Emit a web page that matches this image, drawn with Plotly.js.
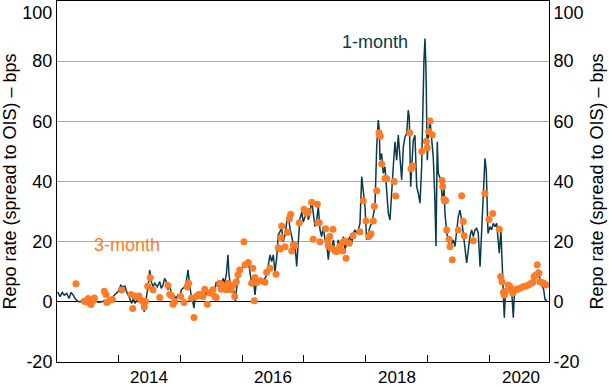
<!DOCTYPE html>
<html>
<head>
<meta charset="utf-8">
<script src="https://cdn.plot.ly/plotly-3.0.1.min.js"></script>
<style>html,body{margin:0;padding:0;background:#fff;}#chart{width:609px;height:387px;}</style>
</head>
<body>
<div id="chart"></div>
<script>
// ---- data: [decimal year, bps] ----
const oneMonth2013 = [[2013.027,3.3],[2013.065,1.7],[2013.102,3.1],[2013.134,2.2],[2013.173,2.8],[2013.210,1.1],[2013.242,3.1],[2013.279,2.2],[2013.306,1.1],[2013.350,0.2],[2013.387,0],[2013.424,0.6],[2013.456,-0.5],[2013.495,0.2],[2013.548,0.5],[2013.602,-0.5],[2013.656,0.2],[2013.682,-0.2],[2013.737,0],[2013.790,0.5],[2013.844,0.2],[2013.898,1.3],[2013.952,2.2]];
const oneMonth2014 = [[2014.005,3.5],[2014.044,5.5],[2014.076,5],[2014.113,5.2],[2014.140,3.3],[2014.177,1.7],[2014.221,-0.5],[2014.247,1.1],[2014.274,-0.5],[2014.318,1.1],[2014.355,2.2],[2014.392,0.5],[2014.424,-3.3],[2014.463,2.2],[2014.489,5.5],[2014.511,10.6],[2014.537,6.7],[2014.565,5],[2014.592,6.2],[2014.634,5],[2014.673,6.7],[2014.698,4.5],[2014.726,5.6],[2014.753,7.8],[2014.779,6.7],[2014.806,4],[2014.834,5.6],[2014.860,2.9],[2014.887,2.3],[2014.915,1.8],[2014.940,1.2],[2014.968,2.3],[2014.995,1.2]];
const oneMonth2015 = [[2015.021,4],[2015.048,4.5],[2015.076,5],[2015.102,6.7],[2015.129,10.6],[2015.156,5.6],[2015.182,1.8],[2015.210,-0.4],[2015.226,-2.1],[2015.247,2.3],[2015.279,2.9],[2015.302,1.8],[2015.334,2.3],[2015.371,3.4],[2015.398,4.5],[2015.424,2.3],[2015.452,3.4],[2015.479,4],[2015.505,2.3],[2015.532,4.5],[2015.560,3.4],[2015.585,6.7],[2015.613,5],[2015.640,6.2],[2015.666,5.6],[2015.694,7.8],[2015.721,6.2],[2015.747,9],[2015.774,15.6],[2015.790,9],[2015.811,6.2],[2015.839,5],[2015.871,3.4],[2015.892,0],[2015.908,3.4],[2015.924,6.7],[2015.947,9],[2015.979,11]];
const oneMonth2016 = [[2016.021,11.8],[2016.048,11.5],[2016.102,13.3],[2016.129,8.9],[2016.156,6.2],[2016.182,7.8],[2016.210,2.3],[2016.237,7.8],[2016.263,5.6],[2016.290,7.3],[2016.344,6.7],[2016.398,8.9],[2016.452,15.6],[2016.479,13.4],[2016.505,15.6],[2016.532,10],[2016.560,14.5],[2016.585,22.2],[2016.613,23.3],[2016.640,24.4],[2016.666,20],[2016.694,22.2],[2016.721,26.6],[2016.747,28.8],[2016.774,24.4],[2016.802,21.5],[2016.827,19.3],[2016.855,18.8],[2016.882,11.8],[2016.908,19.9],[2016.935,27.6],[2016.963,29.8],[2016.989,26.5]];
const oneMonth2017 = [[2017.016,28.3],[2017.044,31.1],[2017.069,27.3],[2017.097,29.4],[2017.124,33.8],[2017.150,28.3],[2017.177,25],[2017.205,27.3],[2017.231,31.6],[2017.258,23.9],[2017.285,21.7],[2017.311,25],[2017.339,20.6],[2017.366,19.5],[2017.392,14],[2017.419,19.5],[2017.447,17.3],[2017.473,20.6],[2017.500,17.3],[2017.527,16.2],[2017.553,20.6],[2017.581,18.4],[2017.608,17.3],[2017.634,21.7],[2017.661,17.3],[2017.689,19.5],[2017.715,20.6],[2017.742,21.7],[2017.769,19.5],[2017.795,22.8],[2017.823,23.9],[2017.850,22.8],[2017.876,23.9],[2017.903,26.1],[2017.931,41.6],[2017.956,37.2],[2017.984,31.6]];
const oneMonth2018 = [[2018.011,20.6],[2018.037,22.8],[2018.065,25],[2018.092,26.1],[2018.118,28.3],[2018.145,31.6],[2018.173,51.5],[2018.198,60.4],[2018.215,57.1],[2018.226,47.1],[2018.253,49.3],[2018.279,42.7],[2018.306,44.9],[2018.334,36.1],[2018.360,29.5],[2018.387,27.2],[2018.415,38.3],[2018.440,44.9],[2018.468,53.2],[2018.495,47.1],[2018.521,55.4],[2018.548,47.1],[2018.576,40.5],[2018.602,51.5],[2018.629,54.8],[2018.656,55.9],[2018.682,63.7],[2018.698,61.4],[2018.721,38.3],[2018.737,44.9],[2018.763,53.7],[2018.790,55.4],[2018.818,38.3],[2018.844,36.1],[2018.871,32.8],[2018.898,44.9],[2018.915,65.9],[2018.935,80.3],[2018.952,87.5],[2018.968,77],[2018.989,47.1]];
const oneMonth2019 = [[2019.005,54.8],[2019.032,60.4],[2019.060,52.6],[2019.085,48.2],[2019.110,35],[2019.129,18.5],[2019.150,53.2],[2019.166,42.7],[2019.205,40.5],[2019.237,32.7],[2019.258,38.2],[2019.274,29.4],[2019.302,23],[2019.327,19.5],[2019.355,17.3],[2019.382,19.5],[2019.408,20.6],[2019.435,18.4],[2019.463,25],[2019.489,28.3],[2019.516,30.5],[2019.544,27.2],[2019.569,22.8],[2019.597,17.3],[2019.624,12.9],[2019.650,17.3],[2019.677,21.7],[2019.705,23.9],[2019.731,21.7],[2019.758,23.9],[2019.785,24.4],[2019.811,22.8],[2019.840,11.7],[2019.876,28.3],[2019.898,41.6],[2019.919,47.7],[2019.940,43.9],[2019.968,22.8]];
const oneMonth2020 = [[2020.000,25],[2020.027,23.9],[2020.053,26.1],[2020.081,25],[2020.108,26.1],[2020.134,20.6],[2020.150,16.2],[2020.177,23.9],[2020.194,9],[2020.210,5.2],[2020.231,-5.3],[2020.247,1.9],[2020.274,4.1],[2020.302,4.6],[2020.327,3.5],[2020.355,1.9],[2020.376,-5.3],[2020.392,1.9],[2020.419,3.5],[2020.452,3.5],[2020.484,4.1],[2020.516,4.6],[2020.548,4.6],[2020.581,5.2],[2020.613,5.2],[2020.645,5.7],[2020.677,6.3],[2020.710,7.4],[2020.742,8.5],[2020.769,10.7],[2020.790,9.6],[2020.811,6.8],[2020.839,5.2],[2020.866,4.1],[2020.887,0.8],[2020.919,0.4]];

const threeMonth2013 = [[2013.323,6],[2013.456,0.2],[2013.495,0],[2013.521,1.1],[2013.548,-0.5],[2013.565,-0.9],[2013.602,0.5],[2013.618,1.3],[2013.779,3.5],[2013.806,2.4],[2013.818,-0.2],[2013.871,0.5],[2013.908,0.8]];
const threeMonth2014 = [[2014.060,3.9],[2014.210,2.4],[2014.237,-2.2],[2014.274,1.9],[2014.318,1.6],[2014.339,1.9],[2014.371,0.5],[2014.408,0],[2014.424,-1.7],[2014.444,0.2],[2014.479,5.2],[2014.519,8],[2014.565,4],[2014.673,1.4],[2014.806,5.4],[2014.834,2.5],[2014.860,2.1],[2014.887,-0.8],[2014.915,0.1]];
const threeMonth2015 = [[2015.011,1.8],[2015.065,-0.2],[2015.118,4.9],[2015.140,6.2],[2015.182,1.2],[2015.226,-5.2],[2015.263,1.8],[2015.290,2.3],[2015.318,2.5],[2015.344,2.1],[2015.371,1.8],[2015.398,4.2],[2015.440,-0.8],[2015.479,2.9],[2015.532,4],[2015.560,1.8],[2015.585,1.4],[2015.640,6.2],[2015.666,4.2],[2015.694,5.1],[2015.721,4.5],[2015.747,4],[2015.774,6.2],[2015.802,4.5],[2015.827,4],[2015.855,5.6],[2015.882,1.8],[2015.908,6.7],[2015.935,9],[2015.963,10.6]];
const threeMonth2016 = [[2016.032,20],[2016.048,12.3],[2016.102,13.1],[2016.156,6.2],[2016.173,11.2],[2016.198,0.4],[2016.210,8.1],[2016.237,6.5],[2016.302,7],[2016.371,6.5],[2016.398,9.8],[2016.452,11.2],[2016.548,9.2],[2016.585,18],[2016.613,17.6],[2016.629,21.3],[2016.640,25.2],[2016.694,18.3],[2016.731,23.1],[2016.763,27.5],[2016.785,29.1],[2016.802,16.9],[2016.827,18.9],[2016.855,18.7],[2016.924,26.3]];
const threeMonth2017 = [[2017.000,30.8],[2017.044,29.4],[2017.069,30],[2017.124,33.1],[2017.150,20.8],[2017.215,32.4],[2017.221,26.3],[2017.247,26.3],[2017.258,20],[2017.350,24.3],[2017.382,20.3],[2017.392,18.6],[2017.415,21.7],[2017.447,17.8],[2017.468,24.1],[2017.500,16.9],[2017.527,16.7],[2017.581,18.6],[2017.624,16.9],[2017.634,20],[2017.661,20.2],[2017.677,14.5],[2017.731,19.5],[2017.790,22],[2017.903,23.3],[2017.956,33.6]];
const threeMonth2018 = [[2018.000,26.9],[2018.048,21.7],[2018.081,22.6],[2018.118,26.9],[2018.134,31.8],[2018.173,36.9],[2018.210,56.2],[2018.231,55],[2018.253,45.8],[2018.306,41],[2018.334,41],[2018.456,40],[2018.479,35.2],[2018.705,56.2],[2018.726,44.2],[2018.753,45.2],[2018.898,50],[2018.973,53.4],[2018.989,51.2]];
const threeMonth2019 = [[2019.011,56.6],[2019.032,60.1],[2019.069,55.5],[2019.226,40.3],[2019.237,38.3],[2019.258,34.1],[2019.285,33.6],[2019.302,23.9],[2019.339,20.8],[2019.355,18.4],[2019.392,14],[2019.489,23.9],[2019.544,35.3],[2019.569,26.7],[2019.585,22],[2019.731,20.3],[2019.919,36],[2019.984,27.4]];
const threeMonth2020 = [[2020.044,29.4],[2020.150,24.1],[2020.173,8.4],[2020.194,6.7],[2020.215,3.1],[2020.231,2.3],[2020.247,3.4],[2020.295,5.6],[2020.323,5.1],[2020.350,4],[2020.366,2.9],[2020.403,4],[2020.440,4.2],[2020.484,4.5],[2020.537,5.1],[2020.581,5.3],[2020.618,5.6],[2020.656,6.1],[2020.689,6.4],[2020.710,8.4],[2020.742,9],[2020.763,12.3],[2020.790,9.6],[2020.806,6.7],[2020.839,6.4],[2020.871,6.2],[2020.903,5.6]];

const yearTicks = [2014, 2015, 2016, 2017, 2018, 2019, 2020];
const yearLabels = ['2014', '2016', '2018', '2020'];
const yTicks = [-20, 0, 20, 40, 60, 80, 100];

// ---- build ----
const oneMonth = [].concat(oneMonth2013, oneMonth2014, oneMonth2015, oneMonth2016, oneMonth2017, oneMonth2018, oneMonth2019, oneMonth2020);
const threeMonth = [].concat(threeMonth2013, threeMonth2014, threeMonth2015, threeMonth2016, threeMonth2017, threeMonth2018, threeMonth2019, threeMonth2020);

const TEAL = '#0b3a4a';
const ORANGE = '#ff7b25';
const FONT = '"Liberation Sans", Arial, Helvetica, sans-serif';
const FS = 18;
const yTitle = 'Repo rate (spread to OIS) \u2013 bps';
const yTickText = yTicks.map(v => v === 100 ? '<br>' + v : String(v));
const labelPos = yearLabels.map(s => Number(s) + 0.5);

const traces = [
  {x: oneMonth.map(p => p[0]), y: oneMonth.map(p => p[1]), type: 'scatter', mode: 'lines',
   line: {color: TEAL, width: 1.5}, hoverinfo: 'skip'},
  {x: threeMonth.map(p => p[0]), y: threeMonth.map(p => p[1]), type: 'scatter', mode: 'markers',
   marker: {color: ORANGE, size: 7, line: {width: 0}}, hoverinfo: 'skip'},
  {x: [], y: [], yaxis: 'y2', type: 'scatter', mode: 'lines', hoverinfo: 'skip'}
];

const yCommon = {
  range: [-20, 100], tickvals: yTicks, ticktext: yTickText, ticks: '',
  showline: true, linecolor: '#000', linewidth: 1, fixedrange: true,
  tickfont: {size: FS, color: '#000', family: FONT},
  title: {text: yTitle, font: {size: FS, color: '#000', family: FONT}, standoff: 7}
};

const layout = {
  width: 609, height: 387,
  margin: {l: 57, r: 60, t: 1, b: 25, pad: 0},
  paper_bgcolor: '#fff', plot_bgcolor: '#fff',
  showlegend: false,
  font: {family: FONT, size: FS, color: '#000'},
  xaxis: {
    range: [2013.016, 2020.952], tickvals: labelPos, ticktext: yearLabels, ticks: '',
    showgrid: false, zeroline: false, showline: true, mirror: true, linecolor: '#000', linewidth: 1,
    tickfont: {size: 17, color: '#000', family: FONT}, ticklabelstandoff: 0,
    minor: {tickvals: yearTicks, ticks: 'inside', ticklen: 7, tickcolor: '#000', tickwidth: 1, showgrid: false},
    fixedrange: true
  },
  yaxis: Object.assign({}, yCommon, {
    side: 'left', showgrid: true, gridcolor: '#a9a9a9', gridwidth: 1,
    zeroline: true, zerolinecolor: '#000', zerolinewidth: 1
  }),
  yaxis2: Object.assign({}, yCommon, {
    side: 'right', overlaying: 'y', showgrid: false, zeroline: false
  }),
  annotations: [
    {x: 2018.145, y: 86.4, xref: 'x', yref: 'y', text: '1-month', showarrow: false,
     font: {size: FS, color: TEAL, family: FONT}},
    {x: 2014.145, y: 19, xref: 'x', yref: 'y', text: '3-month', showarrow: false,
     font: {size: FS, color: ORANGE, family: FONT}}
  ]
};

Plotly.newPlot('chart', traces, layout, {staticPlot: true, displayModeBar: false});
</script>
</body>
</html>
